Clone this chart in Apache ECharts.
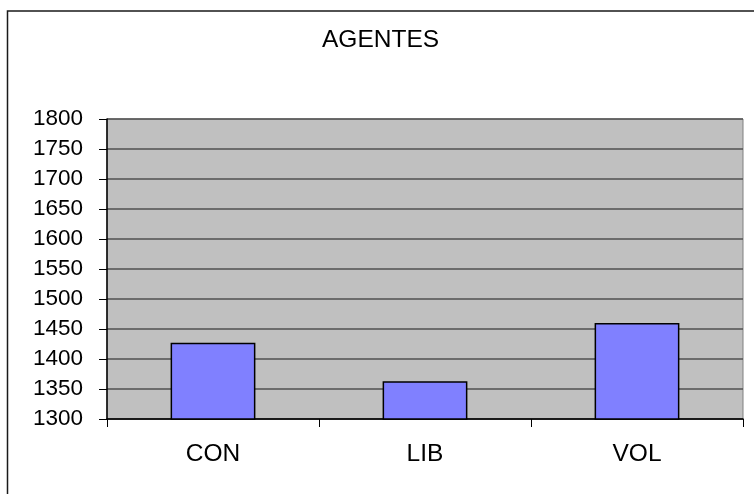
<!DOCTYPE html>
<html>
<head>
<meta charset="utf-8">
<script src="https://cdn.jsdelivr.net/npm/echarts@6/dist/echarts.min.js"></script>
<style>
html,body{margin:0;padding:0;background:#fff;}
#chart{width:754px;height:494px;}
</style>
</head>
<body>
<div id="chart"></div>
<script>
var titleText = 'AGENTES';
var categories = ['CON', 'LIB', 'VOL'];
var values = [1427, 1363, 1460];
var yMin = 1300, yMax = 1800, yStep = 50;

var font = '"Liberation Sans", Arial, sans-serif';
var chart = echarts.init(document.getElementById('chart'), null, {renderer: 'canvas'});
chart.setOption({
  animation: false,
  backgroundColor: '#ffffff',
  title: {
    text: titleText,
    left: 322,
    top: 28,
    padding: 0,
    textStyle: {fontFamily: font, fontSize: 24.5, fontWeight: 'normal', color: '#000'}
  },
  graphic: [{
    type: 'rect',
    shape: {x: 7.5, y: 11, width: 800, height: 600},
    style: {fill: 'none', stroke: '#1a1a1a', lineWidth: 1.5},
    silent: true,
    z: -10
  }],
  grid: {
    left: 107, right: 11, top: 119, bottom: 75,
    show: true,
    backgroundColor: '#c0c0c0',
    borderColor: '#808080',
    borderWidth: 1
  },
  xAxis: {
    type: 'category',
    data: categories,
    boundaryGap: true,
    axisLine: {show: true, lineStyle: {color: '#000', width: 1.5}},
    axisTick: {show: true, length: 8, inside: false, alignWithLabel: false, lineStyle: {color: '#000', width: 1}},
    axisLabel: {margin: 23, fontFamily: font, fontSize: 24.5, color: '#000'},
    splitLine: {show: false}
  },
  yAxis: {
    type: 'value',
    min: yMin, max: yMax, interval: yStep,
    axisLine: {show: true, lineStyle: {color: '#000', width: 1.5}},
    axisTick: {show: true, length: 8, inside: false, lineStyle: {color: '#000', width: 1}},
    axisLabel: {margin: 24, fontFamily: font, fontSize: 22.5, color: '#000',
      formatter: function (v) { return String(v); }},
    splitLine: {show: true, lineStyle: {color: '#505050', width: 1.5}}
  },
  series: [{
    type: 'bar',
    data: values,
    barWidth: '40%',
    itemStyle: {color: '#8080ff', borderColor: '#000', borderWidth: 1.5}
  }]
});
</script>
</body>
</html>
